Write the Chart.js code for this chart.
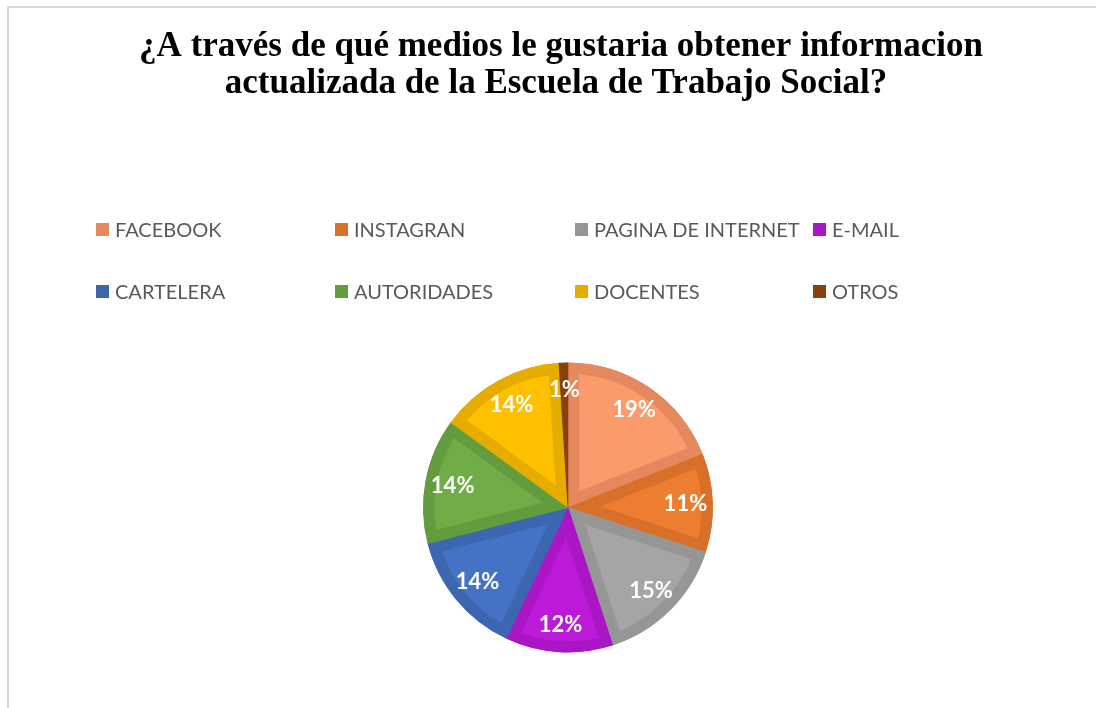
<!DOCTYPE html>
<html>
<head>
<meta charset="utf-8">
<script src="https://cdn.jsdelivr.net/npm/chart.js@4/dist/chart.umd.min.js"></script>
<style>
  html, body { margin: 0; padding: 0; background: #fff; }
  #frame { position: absolute; left: 7px; top: 6px; width: 1089px; height: 702px;
           border-top: 2px solid #d9d9d9; border-left: 2px solid #d9d9d9; box-sizing: border-box; }
  #chart { position: absolute; left: 0; top: 0; }
</style>
</head>
<body>
<div id="frame"></div>
<canvas id="chart" width="1096" height="708"></canvas>
<script>
var titleLines = ['¿A través de qué medios le gustaria obtener informacion',
                  'actualizada de la Escuela de Trabajo Social?'];
var categories = ['FACEBOOK', 'INSTAGRAN', 'PAGINA DE INTERNET', 'E-MAIL',
                  'CARTELERA', 'AUTORIDADES', 'DOCENTES', 'OTROS'];
var percents = [19, 11, 15, 12, 14, 14, 14, 1];
var fillColors = ['#fb9a6b', '#ed7d31', '#a5a5a5', '#bd19d9',
                  '#4472c4', '#70ad47', '#ffc000', '#9a4510'];
var edgeColors = ['#e5885e', '#d8702a', '#969696', '#aa16c4',
                  '#3c66b0', '#639c3f', '#e6ad00', '#88400d'];

// title drawn by hand so it isn't squeezed into the narrow pie area
var wideTitle = {
  id: 'wideTitle',
  afterDraw: function (chart) {
    var ctx = chart.ctx;
    ctx.save();
    ctx.font = 'bold 35px "Liberation Serif", "Times New Roman", serif';
    ctx.fillStyle = '#000';
    ctx.textAlign = 'center';
    ctx.textBaseline = 'middle';
    ctx.fillText(titleLines[0], 561, 47);
    ctx.fillText(titleLines[1], 556, 84);
    ctx.restore();
  }
};

// percentages written inside each slice
var sliceLabels = {
  id: 'sliceLabels',
  afterDatasetsDraw: function (chart) {
    var ctx = chart.ctx;
    var meta = chart.getDatasetMeta(0);
    ctx.save();
    ctx.font = 'bold 22px Lato, "Open Sans", sans-serif';
    ctx.fillStyle = '#ffffff';
    ctx.textAlign = 'center';
    ctx.textBaseline = 'middle';
    meta.data.forEach(function (arc, i) {
      var mid = (arc.startAngle + arc.endAngle) / 2;
      var r = arc.outerRadius * 0.81;
      ctx.fillText(percents[i] + '%', arc.x + Math.cos(mid) * r, arc.y + Math.sin(mid) * r);
    });
    ctx.restore();
  }
};

// legend in four fixed columns, two rows
var gridLegend = {
  id: 'gridLegend',
  afterDraw: function (chart) {
    var ctx = chart.ctx;
    var colX = [96, 335, 575, 813];
    var rowY = [230, 292];
    ctx.save();
    ctx.font = '20px Lato, "Open Sans", sans-serif';
    ctx.textBaseline = 'middle';
    ctx.textAlign = 'left';
    chart.data.labels.forEach(function (lab, i) {
      var x = colX[i % 4], y = rowY[Math.floor(i / 4)];
      ctx.fillStyle = edgeColors[i];
      ctx.fillRect(x, y - 7, 13, 13);
      ctx.fillStyle = '#595959';
      ctx.fillText(lab, x + 19, y + 1);
    });
    ctx.restore();
  }
};

new Chart(document.getElementById('chart'), {
  type: 'pie',
  data: {
    labels: categories,
    datasets: [{
      data: percents,
      backgroundColor: fillColors,
      borderColor: edgeColors,
      borderWidth: 11,
      borderAlign: 'inner'
    }]
  },
  options: {
    responsive: false,
    animation: false,
    layout: { padding: { left: 423, right: 383, top: 362, bottom: 55 } },
    plugins: {
      legend: { display: false },
      tooltip: { enabled: false },
      title: { display: false }
    }
  },
  plugins: [sliceLabels, gridLegend, wideTitle]
});
</script>
</body>
</html>
